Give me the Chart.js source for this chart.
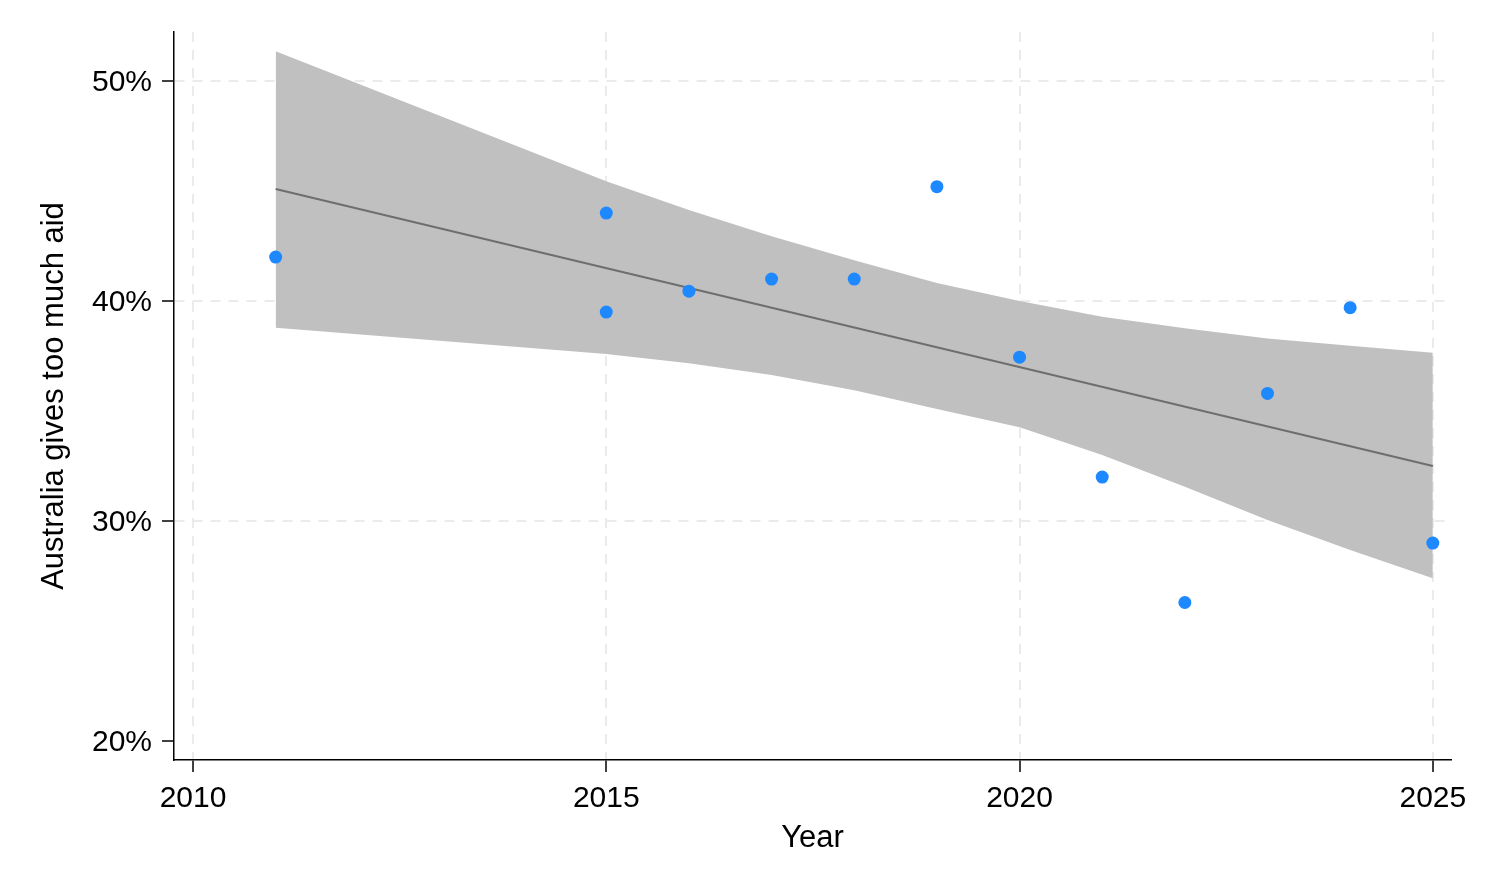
<!DOCTYPE html>
<html>
<head>
<meta charset="utf-8">
<script src="https://cdn.jsdelivr.net/npm/chart.js@4/dist/chart.umd.min.js"></script>
<style>
    html, body { margin: 0; padding: 0; background: #fff; }
    #wrap { width: 1485px; height: 891px; }
</style>
</head>
<body>
<div id="wrap"><canvas id="chart" width="1485" height="891"></canvas></div>
<script>
// survey years and share saying Australia gives too much aid (%)
var years = [2011, 2015, 2015, 2016, 2017, 2018, 2019, 2020, 2021, 2022, 2023, 2024, 2025];
var shares = [42.0, 44.0, 39.5, 40.45, 41.0, 41.0, 45.2, 37.45, 32.0, 26.3, 35.8, 39.7, 29.0];

// fitted line and its confidence band
var fitYears = [2011, 2025];
var fitValues = [45.09, 32.5];
var bandYears = [2011, 2015, 2016, 2017, 2018, 2019, 2020, 2021, 2022, 2023, 2024, 2025];
var bandUpper = [51.35, 45.45, 44.14, 42.95, 41.86, 40.82, 40.0, 39.29, 38.76, 38.30, 37.97, 37.65];
var bandLower = [38.79, 37.59, 37.17, 36.64, 35.95, 35.09, 34.27, 33.0, 31.56, 30.05, 28.68, 27.40];

var xTicks = [2010, 2015, 2020, 2025];
var yTicks = [20, 30, 40, 50];

function pairs(xs, ys) {
    return xs.map(function(x, i) { return { x: x, y: ys[i] }; });
}

var font = 'Liberation Sans, Arial, sans-serif';

document.addEventListener('DOMContentLoaded', function() {
    var ctx = document.getElementById('chart').getContext('2d');
    var chart = new Chart(ctx, {
        type: 'scatter',
        data: {
            datasets: [
                {
                    type: 'line',
                    data: pairs(bandYears, bandUpper),
                    borderWidth: 0,
                    borderColor: 'rgba(0,0,0,0)',
                    backgroundColor: '#C0C0C0',
                    pointRadius: 0,
                    fill: '+1',
                    tension: 0,
                    order: 3
                },
                {
                    type: 'line',
                    data: pairs(bandYears, bandLower),
                    borderWidth: 0,
                    borderColor: 'rgba(0,0,0,0)',
                    pointRadius: 0,
                    fill: false,
                    tension: 0,
                    order: 4
                },
                {
                    type: 'line',
                    data: pairs(fitYears, fitValues),
                    borderColor: '#6E6E6E',
                    borderWidth: 2,
                    pointRadius: 0,
                    fill: false,
                    order: 2
                },
                {
                    data: pairs(years, shares),
                    backgroundColor: '#1E88FF',
                    borderWidth: 0,
                    pointRadius: 6.5,
                    order: 1
                }
            ]
        },
        options: {
            responsive: false,
            animation: false,
            layout: {
                padding: { top: 32, right: 34, left: 0, bottom: 0 }
            },
            plugins: {
                legend: { display: false },
                tooltip: { enabled: false }
            },
            scales: {
                x: {
                    type: 'linear',
                    min: 2009.77,
                    max: 2025.22,
                    afterBuildTicks: function(scale) {
                        scale.ticks = xTicks.map(function(v) { return { value: v }; });
                    },
                    afterFit: function(scale) { scale.height = 131; },
                    grid: {
                        color: '#EBEBEB',
                        lineWidth: 2,
                        tickColor: '#000',
                        tickLength: 12,
                        tickWidth: 1.5,
                        tickBorderDash: []
                    },
                    border: { display: true, color: '#000', width: 1.5, dash: [10, 8] },
                    ticks: {
                        color: '#000',
                        font: { family: font, size: 30 },
                        padding: 9,
                        maxRotation: 0,
                        callback: function(v) { return String(v); }
                    },
                    title: {
                        display: true,
                        text: 'Year',
                        color: '#000',
                        font: { family: font, size: 31 },
                        padding: { top: 0, bottom: 34 }
                    }
                },
                y: {
                    min: 19.14,
                    max: 52.23,
                    afterBuildTicks: function(scale) {
                        scale.ticks = yTicks.map(function(v) { return { value: v }; });
                    },
                    afterFit: function(scale) { scale.width = 174; },
                    grid: {
                        color: function(c) {
                            return c.tick && c.tick.value === 20 ? 'rgba(0,0,0,0)' : '#EBEBEB';
                        },
                        lineWidth: 2,
                        tickColor: '#000',
                        tickLength: 12,
                        tickWidth: 1.5,
                        tickBorderDash: []
                    },
                    border: { display: true, color: '#000', width: 1.5, dash: [10, 8] },
                    ticks: {
                        color: '#000',
                        font: { family: font, size: 30 },
                        padding: 10,
                        labelOffset: 2,
                        callback: function(v) { return v + '%'; }
                    },
                    title: {
                        display: true,
                        text: 'Australia gives too much aid',
                        color: '#000',
                        font: { family: font, size: 31 },
                        padding: { top: 36, bottom: 0 }
                    }
                }
            }
        }
    });
});
</script>
</body>
</html>
